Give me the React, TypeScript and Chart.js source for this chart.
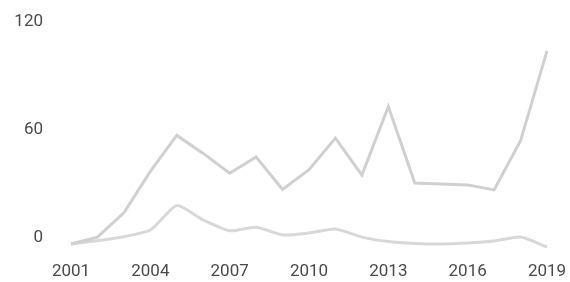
import React, { useEffect, useRef } from "react";
import { Chart, registerables } from "chart.js";

Chart.register(...registerables);

const years = [
  "2001", "2002", "2003", "2004", "2005", "2006", "2007", "2008", "2009", "2010",
  "2011", "2012", "2013", "2014", "2015", "2016", "2017", "2018", "2019",
];
const upperSeries = [-3.3, 0.5, 14, 37, 57, 47, 36, 45, 27, 38, 55.5, 35, 73, 30.5, 30, 29.5, 26.7, 54, 104];
const lowerSeries = [-3.3, -1.5, 0.7, 4.4, 18, 10, 4, 6, 1.7, 2.8, 5, 0.5, -2, -3, -3.3, -2.8, -1.7, 0.5, -5];
const yTicks = [0, 60, 120];
const xTickLabels = ["2001", "2004", "2007", "2010", "2013", "2016", "2019"];

export default function App() {
  const ref = useRef<HTMLCanvasElement | null>(null);
  useEffect(() => {
    if (!ref.current) return;
    const chart = new Chart(ref.current, {
      type: "line",
      data: {
        labels: years,
        datasets: [
          {
            data: upperSeries,
            borderColor: "#d0d0d0",
            borderWidth: 3,
            pointRadius: 0,
            tension: 0,
          },
          {
            data: lowerSeries,
            borderColor: "#d8d8d8",
            borderWidth: 3,
            pointRadius: 0,
            tension: 0.2,
          },
        ],
      },
      options: {
        responsive: false,
        animation: false,
        layout: { padding: { top: 7.6, right: 23, bottom: 0, left: 0 } },
        plugins: { legend: { display: false }, tooltip: { enabled: false } },
        scales: {
          x: {
            offset: false,
            grid: { display: false, drawTicks: false },
            border: { display: false },
            afterFit: (s: any) => {
              s.height = 29.6;
              s.paddingLeft = 0;
              s.paddingRight = 0;
            },
            ticks: {
              autoSkip: false,
              maxRotation: 0,
              padding: 9,
              color: "#4a4a4a",
              font: { family: "Roboto", size: 17 },
              callback: function (this: any, v: any, i: number) {
                const l = years[i];
                return xTickLabels.includes(l) ? l : "";
              },
            },
          },
          y: {
            min: -8,
            max: 128,
            grid: { display: false, drawTicks: false },
            border: { display: false },
            afterFit: (s: any) => {
              s.width = 71;
              s.paddingTop = 0;
              s.paddingBottom = 0;
            },
            afterBuildTicks: (s: any) => {
              s.ticks = yTicks.map((v) => ({ value: v }));
            },
            ticks: {
              padding: 28,
              color: "#4a4a4a",
              font: { family: "Roboto", size: 17 },
            },
          },
        },
      },
    });
    return () => chart.destroy();
  }, []);
  return (
    <div style={{ position: "fixed", left: 0, top: 0, width: 570, height: 282, background: "#fff" }}>
      <canvas ref={ref} width={570} height={282} />
    </div>
  );
}
